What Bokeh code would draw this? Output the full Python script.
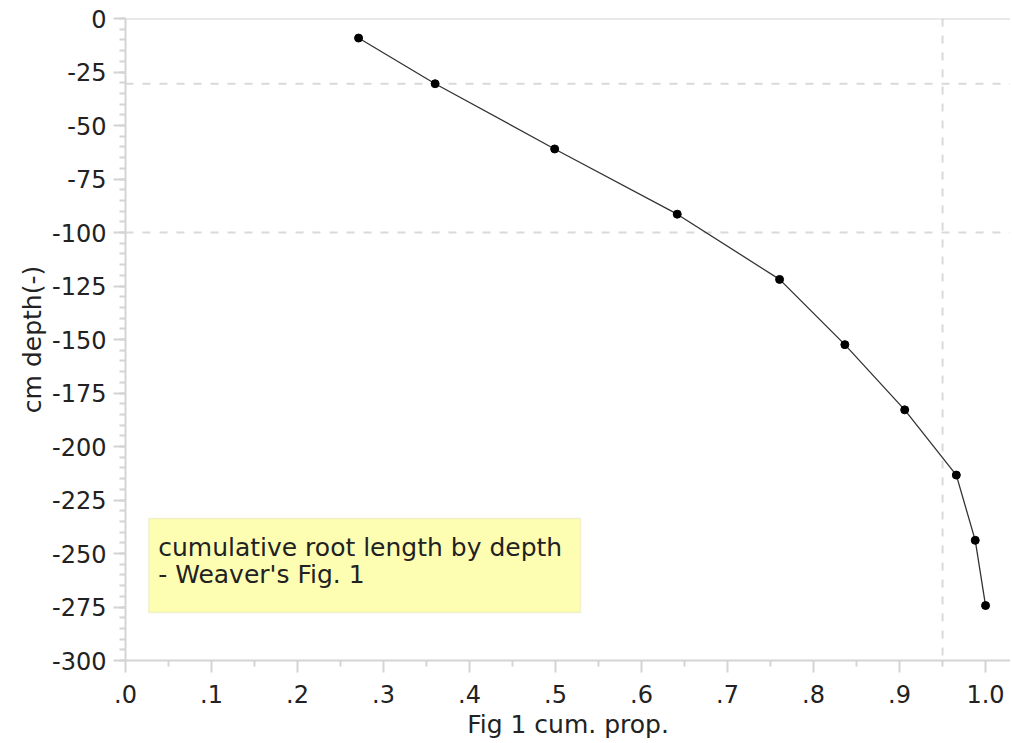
from bokeh.plotting import figure
from bokeh.models import FixedTicker, Span, BoxAnnotation, Label, Range1d
from bokeh.embed import file_html
from bokeh.resources import INLINE

# ---- data ----
cum_prop = [0.271, 0.360, 0.499, 0.6415, 0.7605, 0.8364, 0.906, 0.966, 0.988, 1.000]
depth_cm = [-9.14, -30.48, -60.96, -91.44, -121.92, -152.4, -182.88, -213.36, -243.84, -274.32]

x_ticks = [0.0, 0.1, 0.2, 0.3, 0.4, 0.5, 0.6, 0.7, 0.8, 0.9, 1.0]
x_tick_labels = [".0", ".1", ".2", ".3", ".4", ".5", ".6", ".7", ".8", ".9", "1.0"]
x_minor = [0.05, 0.15, 0.25, 0.35, 0.45, 0.55, 0.65, 0.75, 0.85, 0.95]
y_ticks = [0, -25, -50, -75, -100, -125, -150, -175, -200, -225, -250, -275, -300]
y_tick_labels = ["0", "-25", "-50", "-75", "-100", "-125", "-150", "-175", "-200",
                 "-225", "-250", "-275", "-300"]
y_minor = [-v for v in range(0, 301, 5)]

ref_depths = [-30.48, -100]
ref_props = [0.95]

note_lines = ["cumulative root length by depth", "- Weaver's Fig. 1"]
x_title = "Fig 1 cum. prop."
y_title = "cm depth(-)"

FONT = "DejaVu Sans"
GRID = "#d9d9d9"
AXIS = "#d4d4d4"
TXT = "#222222"

p = figure(width=1010, height=741, output_backend="svg", toolbar_location=None,
           x_range=Range1d(0, 1.029), y_range=Range1d(-300, 0),
           min_border_left=125, min_border_right=0, min_border_top=18, min_border_bottom=81)
p.outline_line_color = None
p.grid.visible = False
p.background_fill_color = "white"
p.border_fill_color = "white"

# reference lines
for d in ref_depths:
    p.add_layout(Span(location=d, dimension="width", line_color=GRID, line_width=2,
                      line_dash="8 9", level="underlay"))
for v in ref_props:
    p.add_layout(Span(location=v, dimension="height", line_color=GRID, line_width=2,
                      line_dash="8 9", level="underlay"))
# top frame line
p.add_layout(Span(location=0, dimension="width", line_color=AXIS, line_width=2, level="underlay"))

p.line(cum_prop, depth_cm, line_color="#333333", line_width=1.3)
p.scatter(cum_prop, depth_cm, size=8, color="black")

# axes
xa = p.xaxis[0]
xa.ticker = FixedTicker(ticks=x_ticks, minor_ticks=x_minor)
xa.major_label_overrides = {t: l for t, l in zip(x_ticks, x_tick_labels)}
ya = p.yaxis[0]
ya.ticker = FixedTicker(ticks=y_ticks, minor_ticks=y_minor)
ya.major_label_overrides = {t: l for t, l in zip(y_ticks, y_tick_labels)}

for ax in (xa, ya):
    ax.axis_line_color = AXIS
    ax.axis_line_width = 2
    ax.major_tick_line_color = AXIS
    ax.major_tick_line_width = 2
    ax.minor_tick_line_color = AXIS
    ax.minor_tick_line_width = 2
    ax.major_tick_in = 0
    ax.minor_tick_in = 0
    ax.major_tick_out = 12
    ax.minor_tick_out = 6
    ax.major_label_text_font = FONT
    ax.major_label_text_font_size = "24px"
    ax.major_label_text_color = TXT
    ax.axis_label_text_font = FONT
    ax.axis_label_text_font_size = "25px"
    ax.axis_label_text_font_style = "normal"
    ax.axis_label_text_color = TXT

xa.axis_label = x_title
ya.axis_label = y_title
xa.major_label_standoff = 12
xa.axis_label_standoff = 4
ya.major_label_standoff = 7
ya.axis_label_standoff = 2

# note box
p.add_layout(BoxAnnotation(left=0.027, right=0.529, top=-233.6, bottom=-277.6,
                           fill_color="#fefeb2", fill_alpha=1.0,
                           line_color="#d2d2a6", line_width=1.5))
for i, txt in enumerate(note_lines):
    p.add_layout(Label(x=0.038, y=-247.2 - 12.6 * i, text=txt,
                       text_font=FONT, text_font_size="25px", text_color=TXT,
                       text_baseline="alphabetic"))

open("out.html", "w").write(file_html(p, INLINE))
